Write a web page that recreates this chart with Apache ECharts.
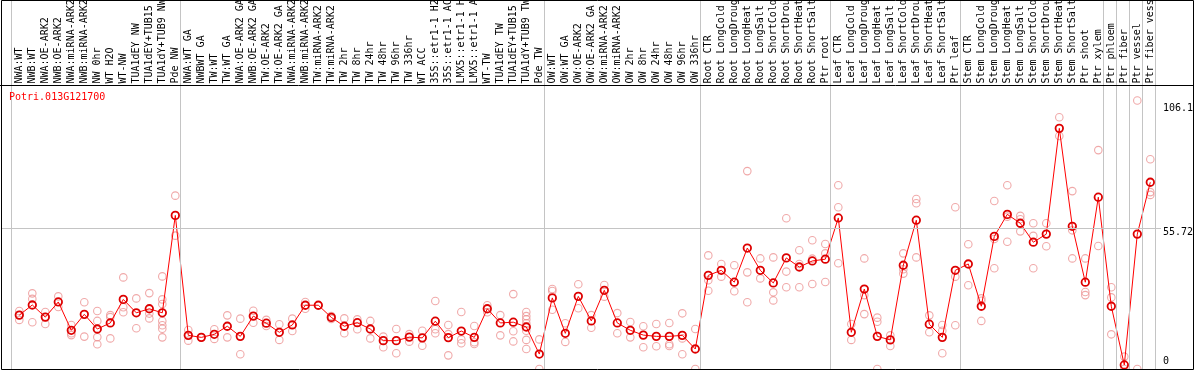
<!DOCTYPE html>
<html>
<head>
<meta charset="utf-8">
<script src="https://cdn.jsdelivr.net/npm/echarts@6/dist/echarts.min.js"></script>
<style>
html,body{margin:0;padding:0;background:#fff;}
#main{width:1194px;height:370px;}
</style>
</head>
<body>
<div id="main"></div>
<script>
// ---------------- data ----------------
const geneId = 'Potri.013G121700';

const categories = [
  'NWA:WT','NWB:WT','NWA:OE-ARK2','NWB:OE-ARK2','NWA:miRNA-ARK2','NWB:miRNA-ARK2','NW 0hr','WT H2O','WT-NW','TUA1dEY NW','TUA1dEY+TUB15 NW','TUA1dY+TUB9 NW','Pde NW',
  'NWA:WT GA','NWBWT GA','TW:WT','TW:WT GA','NWA:OE-ARK2 GA','NWB:OE-ARK2 GA','TW:OE-ARK2','TW:OE-ARK2 GA','NWA:miRNA-ARK2 GA','NWB:miRNA-ARK2 GA','TW:miRNA-ARK2','TW:miRNA-ARK2 GA',
  'TW 2hr','TW 8hr','TW 24hr','TW 48hr','TW 96hr','TW 336hr','WT ACC','35S::etr1-1 H2O','35S::etr1-1 ACC','LMX5::etr1-1 H2O','LMX5::etr1-1 ACC','WT-TW','TUA1dEY TW','TUA1dEY+TUB15 TW','TUA1dY+TUB9 TW','Pde TW',
  'OW:WT','OW:WT GA','OW:OE-ARK2','OW:OE-ARK2 GA','OW:miRNA-ARK2','OW:miRNA-ARK2 GA','OW 2hr','OW 8hr','OW 24hr','OW 48hr','OW 96hr','OW 336hr',
  'Root CTR','Root LongCold','Root LongDrought','Root LongHeat','Root LongSalt','Root ShortCold','Root ShortDrought','Root ShortHeat','Root ShortSalt','Ptr root',
  'Leaf CTR','Leaf LongCold','Leaf LongDrought','Leaf LongHeat','Leaf LongSalt','Leaf ShortCold','Leaf ShortDrought','Leaf ShortHeat','Leaf ShortSalt','Ptr leaf',
  'Stem CTR','Stem LongCold','Stem LongDrought','Stem LongHeat','Stem LongSalt','Stem ShortCold','Stem ShortDrought','Stem ShortHeat','Stem ShortSalt','Ptr shoot','Ptr xylem',
  'Ptr phloem','Ptr fiber','Ptr vessel','Ptr fiber vessel'
];

const groupSizes = [13, 28, 12, 10, 10, 11, 1, 1, 1, 1];

const means = [
  21.3, 25.3, 20.5, 26.5, 15.3, 21.6, 15.8, 18.2, 27.5, 22.2, 23.8, 22.2, 60.7,
  13.3, 12.5, 13.7, 16.9, 12.9, 20.9, 18.1, 14.5, 17.4, 25.2, 25.2, 20.4,
  16.9, 18.3, 15.8, 11.2, 11.2, 12.6, 12.3, 18.9, 12.4, 15.0, 12.5, 23.8, 18.2, 18.5, 16.6, 5.9,
  28.1, 14.1, 28.7, 19.0, 31.1, 18.2, 15.3, 13.4, 12.9, 12.9, 13.3, 7.9,
  37.0, 39.0, 34.3, 47.8, 39.0, 34.0, 43.9, 40.3, 42.7, 43.4,
  59.7, 14.5, 31.6, 12.9, 11.5, 41.0, 58.8, 17.7, 12.5, 39.0,
  41.5, 24.8, 52.4, 61.1, 57.6, 50.1, 53.3, 95.1, 56.4, 34.3, 67.9,
  24.8, 1.6, 53.3, 73.8
];

const replicates = [
  [22.9, 19.4, 21.3], [29.9, 27.7, 18.5], [22.5, 20.5, 17.8], [28.7, 24.5], [17.4, 14.1, 13.4],
  [26.4, 12.8], [22.9, 19.0, 12.6, 9.8], [21.3, 20.5, 12.1], [36.2, 24.4, 22.4], [27.9, 16.1],
  [30.0, 21.9, 20.0], [36.6, 27.5, 25.7, 19.0, 17.3, 15.9, 12.5], [68.5, 52.7],
  [15.4, 11.2], [12.5], [15.7, 11.9], [21.2, 12.5], [19.9, 5.8], [23.0, 18.3], [19.4, 17.0],
  [17.7, 11.5], [19.9, 15.0], [26.5, 23.8], [25.2], [20.9, 19.8],
  [20.0, 14.1], [19.6, 15.7], [19.0, 12.1], [12.8, 8.6], [15.8, 6.2], [13.8, 10.8], [15.1, 9.2],
  [26.9, 15.7, 14.1], [17.4, 13.8, 5.4], [22.5, 11.7, 10.2], [17.0, 10.6, 9.9], [25.2, 22.4],
  [21.3, 13.3], [29.6, 14.9, 10.9], [22.5, 20.9, 19.6, 18.1, 15.1, 11.5, 7.9], [11.7, 0],
  [31.6, 30.8, 23.4], [18.1, 10.7], [33.5, 24.0], [21.3, 16.3], [33.2, 28.6], [22.1, 14.1],
  [18.6, 12.5], [16.9, 8.6], [17.8, 9.0], [18.2, 9.8, 9.1], [22.0, 12.1, 5.8], [15.8, 0],
  [44.9, 35.1, 30.9], [41.5, 36.5], [41.0, 30.7], [78.2, 38.2, 26.4], [43.7, 35.8],
  [44.1, 30.3, 27.1], [59.6, 38.5, 32.3], [46.9, 41.5, 32.3], [50.9, 43.6, 33.6], [49.4, 45.7, 34.4],
  [72.6, 63.9, 41.8], [17.8, 11.5], [43.7, 29.2, 21.7], [20.3, 18.7, 0], [13.3, 9.1],
  [45.7, 39.4, 37.7], [67.2, 65.5, 44.1], [21.2, 14.5], [17.4, 15.1, 6.2], [63.9, 36.5, 17.3],
  [49.3, 33.1], [27.9, 27.0, 19.0], [66.4, 51.4, 39.8], [72.6, 60.2, 50.3], [60.5, 59.2, 54.4],
  [57.6, 52.6, 39.8], [57.6, 48.5], [99.5, 92.1], [70.3, 54.8, 43.7], [43.7, 30.4, 29.2], [86.5, 48.6],
  [32.3, 28.3, 13.7], [4.9, 0], [106.1, 0], [82.9, 69.9, 68.8]
];

const yTickValues = [0, 55.72, 106.1];
const yTickLabels = ['0', '55.72', '106.1'];
const yGridValue = 55.72;

// ---------------- layout (pixels) ----------------
const W = 1194, H = 370;
const BAND = 13;
const FIRST_CENTER = 19.3;
const PLOT_L = 1, PLOT_R = 1161;
const ZERO_Y = 369;
const PX_PER_UNIT = 2.5305;
const HEADER_Y = 85.5;
const SEP_SHIFT = -1.8 / BAND;
const Y_LABEL_X = 1163;
const Y_LABEL_SHIFT = [-8, 4, 7.5];
const FONT = '"DejaVu Sans Mono", "Liberation Mono", monospace';

const xMin = -(FIRST_CENTER - PLOT_L) / BAND;
const xMax = xMin + (PLOT_R - PLOT_L) / BAND;
const yMax = ZERO_Y / PX_PER_UNIT;

// group boundaries
const bounds = [0];
groupSizes.forEach(s => bounds.push(bounds[bounds.length - 1] + s));

const repData = [];
replicates.forEach((arr, i) => arr.forEach(v => repData.push([i, v])));
const meanData = means.map((v, i) => [i, v]);

const chart = echarts.init(document.getElementById('main'), null, {renderer: 'canvas'});

const option = {
  animation: false,
  backgroundColor: '#fff',
  title: {
    text: geneId, left: 9, top: 92, padding: 0,
    textStyle: {color: '#ff0000', fontSize: 10, fontWeight: 'normal', fontFamily: FONT}
  },
  grid: [
    {left: PLOT_L, right: W - PLOT_R, top: 0, bottom: H - ZERO_Y, outerBoundsMode: 'none', containLabel: false},
    {left: FIRST_CENTER - BAND / 2, width: BAND * categories.length, top: 0, height: HEADER_Y, outerBoundsMode: 'none', containLabel: false}
  ],
  xAxis: [
    {type: 'value', gridIndex: 0, min: xMin, max: xMax, show: false},
    {
      type: 'category', gridIndex: 1, data: categories, position: 'bottom',
      axisLine: {show: false}, axisTick: {show: false}, splitLine: {show: false},
      axisLabel: {inside: true, rotate: 90, interval: 0, margin: 2, fontSize: 10, fontFamily: FONT, color: '#000', hideOverlap: false}
    }
  ],
  yAxis: [
    {type: 'value', gridIndex: 0, min: 0, max: yMax, show: false},
    {type: 'value', gridIndex: 1, show: false}
  ],
  series: [
    {
      type: 'line', xAxisIndex: 0, yAxisIndex: 0, data: [], silent: true, z: 1,
      markLine: {
        silent: true, symbol: ['none', 'none'], label: {show: false},
        lineStyle: {color: '#c4c4c4', width: 1, type: 'solid'},
        emphasis: {disabled: true},
        data: bounds.map(k => ({xAxis: k - 0.5 + SEP_SHIFT})).concat([{yAxis: yGridValue}])
      }
    },
    {
      type: 'scatter', xAxisIndex: 0, yAxisIndex: 0, data: repData, silent: true, z: 2,
      symbol: 'circle', symbolSize: 7.5,
      itemStyle: {color: 'rgba(0,0,0,0)', borderColor: '#ec9494', borderWidth: 1.1}
    },
    {
      type: 'line', xAxisIndex: 0, yAxisIndex: 0, data: meanData, silent: true, z: 3,
      symbol: 'circle', symbolSize: 7.5, showSymbol: true, showAllSymbol: true,
      lineStyle: {color: '#ff0000', width: 1},
      itemStyle: {color: 'rgba(0,0,0,0)', borderColor: '#dd0000', borderWidth: 1.8}
    }
  ]
};

chart.setOption(option);

const graphics = [
  {type: 'rect', silent: true, z: 10, shape: {x: 1.5, y: 0.5, width: W - 2, height: ZERO_Y}, style: {fill: 'none', stroke: '#000', lineWidth: 1}},
  {type: 'line', silent: true, z: 10, shape: {x1: 0, y1: HEADER_Y, x2: W, y2: HEADER_Y}, style: {stroke: '#000', lineWidth: 1}}
];
yTickValues.forEach((v, j) => {
  const py = chart.convertToPixel({yAxisIndex: 0}, v);
  graphics.push({
    type: 'text', silent: true, z: 10,
    style: {
      text: yTickLabels[j], x: Y_LABEL_X, y: py + Y_LABEL_SHIFT[j],
      font: '10px ' + FONT, fill: '#000',
      align: 'left', verticalAlign: 'middle', textAlign: 'left', textVerticalAlign: 'middle'
    }
  });
});
chart.setOption({graphic: graphics});
</script>
</body>
</html>
